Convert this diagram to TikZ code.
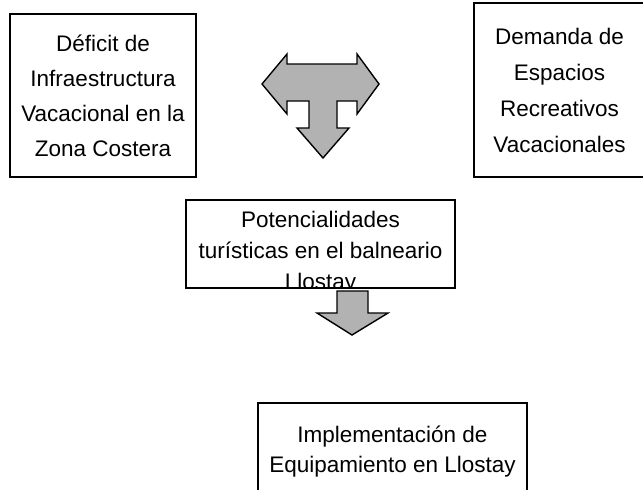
\documentclass[tikz,border=0pt]{standalone}
\usepackage{fontspec}
\setmainfont{Liberation Sans}

\begin{document}
\begin{tikzpicture}[x=1pt,y=-1pt,every node/.style={draw,line width=1.6pt,align=center,inner sep=0pt,font=\fontsize{22.5}{35}\selectfont}]
\clip (0,0) rectangle (643,490);
\node[minimum width=186pt,minimum height=163pt] (deficit) at (103,95.5) {Déficit de\\Infraestructura\\Vacacional en la\\Zona Costera};
\node[minimum width=171pt,minimum height=174pt,font=\fontsize{22.5}{36}\selectfont] (demanda) at (559.5,90) {Demanda de\\Espacios\\Recreativos\\Vacacionales};
\node[minimum width=269pt,minimum height=88pt] (potencial) at (320.5,244) {};
\begin{scope}
\clip (potencial.north west) rectangle (potencial.south east);
\node[draw=none,font=\fontsize{22.5}{31}\selectfont,anchor=base] (potencialtxt) at (320.5,289) {Potencialidades\\turísticas en el balneario\\Llostay};
\end{scope}
\node[minimum width=269pt,minimum height=98pt,font=\fontsize{22.5}{30}\selectfont] (equip) at (392.5,452) {Implementación de\\Equipamiento en Llostay};

\draw[line width=1.4pt,fill=black!30] (262,84) -- (287,54) -- (287,64) -- (357,64) -- (357,54) -- (379,84) -- (357,114) -- (357,101) -- (337,101) -- (337,128) -- (349,128) -- (323,158) -- (297,128) -- (309,128) -- (309,101) -- (287,101) -- (287,114) -- cycle;
\draw[line width=1.4pt,fill=black!30] (337,291) -- (368,291) -- (368,313) -- (388,313) -- (352,335) -- (317,313) -- (337,313) -- cycle;
\end{tikzpicture}
\end{document}
